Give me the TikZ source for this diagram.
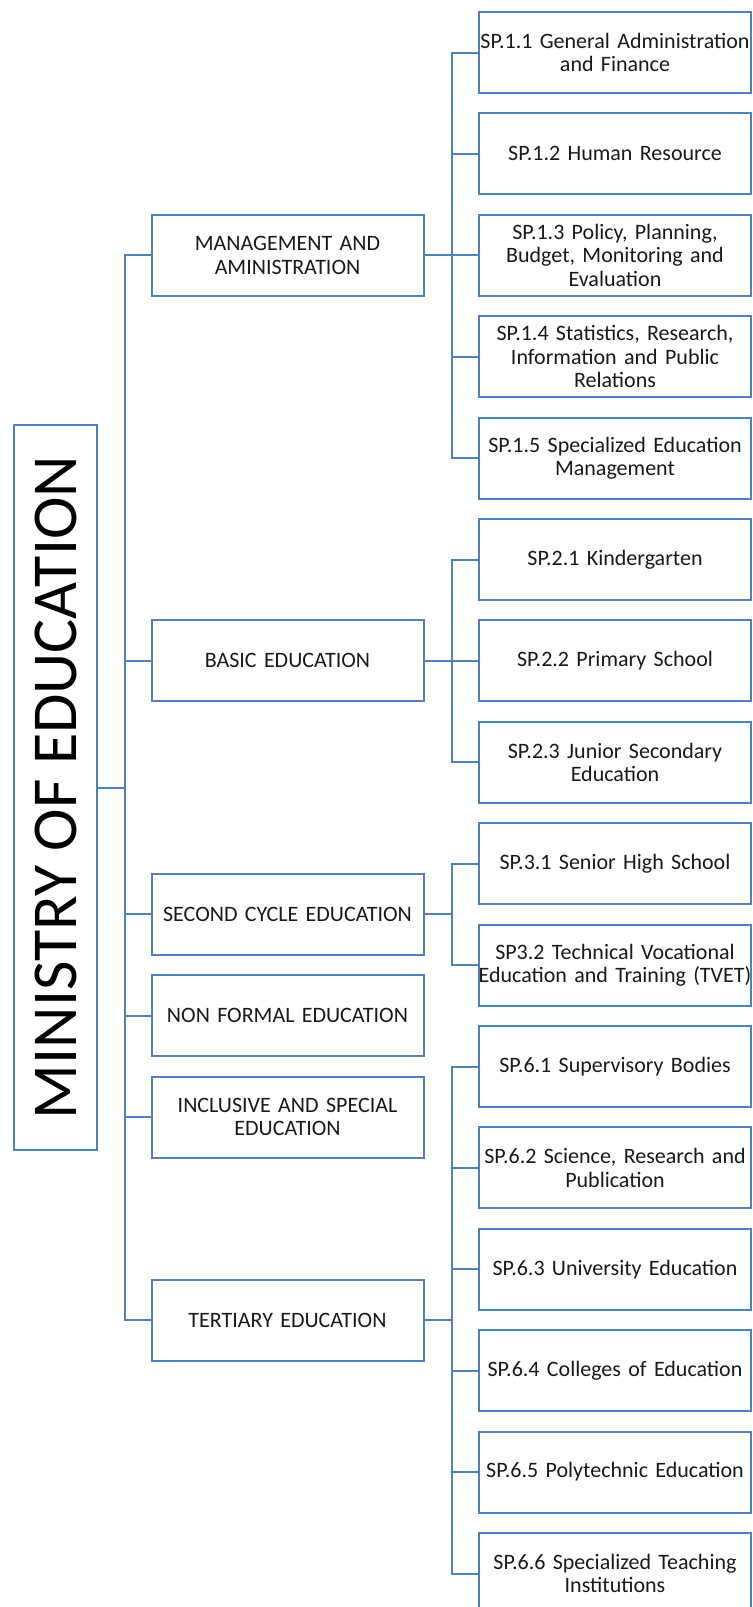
\documentclass[tikz,border=0pt]{standalone}
\usepackage{fontspec}
\setmainfont{Carlito}
\usetikzlibrary{positioning}

\definecolor{boxblue}{RGB}{79,129,189}
\definecolor{txtgray}{RGB}{25,25,25}

\tikzset{
  unit/.style={draw=boxblue, line width=1pt, text=txtgray, align=center,
    text width=150pt, inner xsep=-7pt, inner ysep=0pt, minimum height=40.5pt,
    font=\fontsize{11pt}{11.7pt}\selectfont},
  link/.style={draw=boxblue, line width=1pt},
}

\begin{document}
\begin{tikzpicture}[x=0.5pt, y=-0.5pt]

    \useasboundingbox (0,0) rectangle (752,1607);

    \node[draw=boxblue, line width=1pt, minimum width=41.5pt, minimum height=362.5pt, inner sep=0pt] (moe) at (55.5,787.5) {};
    \node[rotate=90, text=black, font=\fontsize{32pt}{36pt}\selectfont] (title) at (moe) {MINISTRY OF EDUCATION};

    \node[unit] (mgmt) at (287.5,255.3) {MANAGEMENT AND\\AMINISTRATION};
    \node[unit] (basic) at (287.5,660.9) {BASIC EDUCATION};
    \node[unit] (second) at (287.5,914.4) {SECOND CYCLE EDUCATION};
    \node[unit] (nonformal) at (287.5,1015.8) {NON FORMAL EDUCATION};
    \node[unit] (inclusive) at (287.5,1117.2) {INCLUSIVE AND SPECIAL\\EDUCATION};
    \node[unit] (tertiary) at (287.5,1320) {TERTIARY EDUCATION};

    \node[unit] (sp11) at (615,52.5) {SP.1.1 General Administration\\and Finance};
    \node[unit] (sp12) at (615,153.9) {SP.1.2 Human Resource};
    \node[unit] (sp13) at (615,255.3) {SP.1.3 Policy, Planning,\\Budget, Monitoring and\\Evaluation};
    \node[unit] (sp14) at (615,356.7) {SP.1.4 Statistics, Research,\\Information and Public\\Relations};
    \node[unit] (sp15) at (615,458.1) {SP.1.5 Specialized Education\\Management};

    \node[unit] (sp21) at (615,559.5) {SP.2.1 Kindergarten};
    \node[unit] (sp22) at (615,660.9) {SP.2.2 Primary School};
    \node[unit] (sp23) at (615,762.3) {SP.2.3 Junior Secondary\\Education};

    \node[unit] (sp31) at (615,863.7) {SP.3.1 Senior High School};
    \node[unit] (sp32) at (615,965.1) {SP3.2 Technical Vocational\\Education and Training (TVET)};

    \node[unit] (sp61) at (615,1066.5) {SP.6.1 Supervisory Bodies};
    \node[unit] (sp62) at (615,1167.9) {SP.6.2 Science, Research and\\Publication};
    \node[unit] (sp63) at (615,1269.3) {SP.6.3 University Education};
    \node[unit] (sp64) at (615,1370.7) {SP.6.4 Colleges of Education};
    \node[unit] (sp65) at (615,1472.1) {SP.6.5 Polytechnic Education};
    \node[unit] (sp66) at (615,1573.5) {SP.6.6 Specialized Teaching\\Institutions};

    \foreach \c in {mgmt,basic,second,nonformal,inclusive,tertiary}
      \draw[link] (moe.east) -- ++(27,0) |- (\c.west);

    \foreach \c in {sp11,sp12,sp13,sp14,sp15}
      \draw[link] (mgmt.east) -- ++(27,0) |- (\c.west);
    \foreach \c in {sp21,sp22,sp23}
      \draw[link] (basic.east) -- ++(27,0) |- (\c.west);
    \foreach \c in {sp31,sp32}
      \draw[link] (second.east) -- ++(27,0) |- (\c.west);
    \foreach \c in {sp61,sp62,sp63,sp64,sp65,sp66}
      \draw[link] (tertiary.east) -- ++(27,0) |- (\c.west);

\end{tikzpicture}
\end{document}
